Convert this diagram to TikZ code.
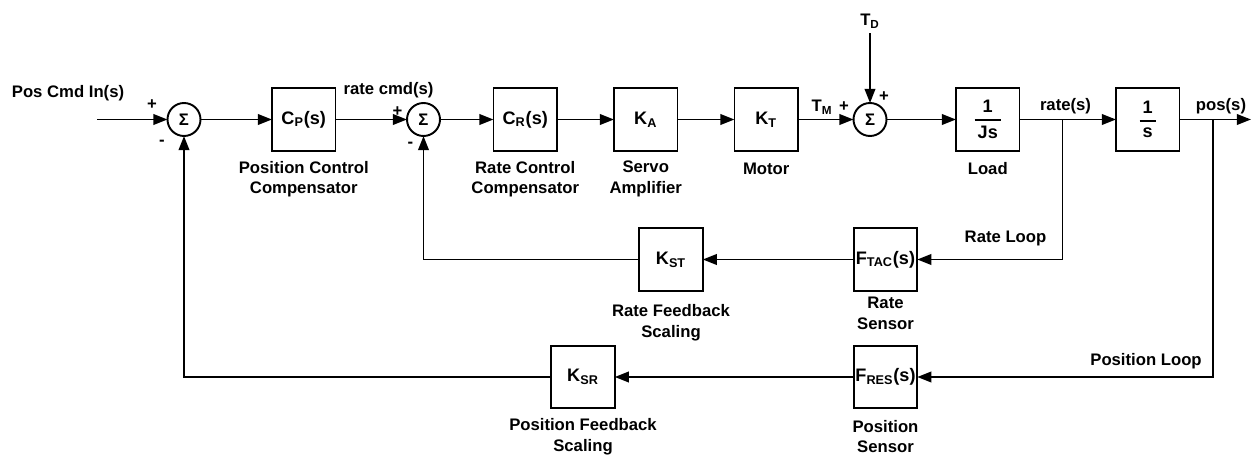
\documentclass[tikz,border=0pt]{standalone}
\usepackage{amsmath}
\usepackage{fontspec}
\setmainfont{Liberation Sans}
\usetikzlibrary{positioning,calc,arrows.meta}

\newcommand{\sbs}[1]{\textsubscript{#1}}
\newcommand{\blkfrac}[2]{$\genfrac{}{}{1pt}{0}{\text{#1}}{\text{\,#2\,}}$}

\begin{document}
\begin{tikzpicture}[line width=1.1pt, >={Triangle[length=8pt,width=6pt]},
    every node/.style={font=\bfseries\fontsize{9.5}{11.9}\selectfont},
    blk/.style={draw, minimum width=1.27cm, minimum height=1.25cm, inner sep=0pt, outer sep=0pt,
      font=\bfseries\fontsize{10.3}{12}\selectfont},
    sumpt/.style={draw, circle, minimum size=0.66cm, inner sep=0pt, outer sep=0pt},
    lbl/.style={align=center, inner sep=1pt},
    sgn/.style={inner sep=0pt}]
      \useasboundingbox (0,0) rectangle (25.12,-9.1);
      % forward path
      \node (sum1) [sumpt] at (3.68,-2.39) {Σ};
      \node (cp) [blk, right=1.43cm of sum1] {C\sbs{P}(s)};
      \node (sum2) [sumpt, right=1.43cm of cp] {Σ};
      \node (cr) [blk, right=1.07cm of sum2] {C\sbs{R}(s)};
      \node (ka) [blk, right=1.14cm of cr] {K\sbs{A}};
      \node (kt) [blk, right=1.14cm of ka] {K\sbs{T}};
      \node (sum3) [sumpt, right=1.11cm of kt] {Σ};
      \node (load) [blk, right=1.39cm of sum3] {\blkfrac{1}{Js}};
      \node (integ) [blk, right=1.93cm of load] {\blkfrac{1}{s}};
      \node (td) [inner sep=2.5pt, above=1.39cm of sum3] {T\sbs{D}};
      \coordinate (in) at ($(sum1.west)+(-1.41,0)$);
      \coordinate (out) at ($(integ.east)+(1.43,0)$);
      \coordinate (rtap) at ($(load.east)+(0.86,0)$);
      \coordinate (ptap) at ($(integ.east)+(0.67,0)$);
      % feedback blocks
      \node (ftac) [blk] at (17.71,-5.19) {F\sbs{TAC}(s)};
      \node (kst) [blk, left=3.02cm of ftac] {K\sbs{ST}};
      \node (fres) [blk, below=1.10cm of ftac] {F\sbs{RES}(s)};
      \node (ksr) [blk, left=4.78cm of fres] {K\sbs{SR}};
      % block captions
      \node (cplbl) [lbl, below=0.15cm of cp] {Position Control\\Compensator};
      \node (crlbl) [lbl, below=0.15cm of cr] {Rate Control\\Compensator};
      \node (kalbl) [lbl, below=0.14cm of ka] {Servo\\Amplifier};
      \node (ktlbl) [lbl, below=0.2cm of kt] {Motor};
      \node (loadlbl) [lbl, below=0.18cm of load] {Load};
      \node (ftaclbl) [lbl, below=0.08cm of ftac] {Rate\\Sensor};
      \node (kstlbl) [lbl, below=0.22cm of kst] {Rate Feedback\\Scaling};
      \node (freslbl) [lbl, below=0.18cm of fres] {Position\\Sensor};
      \node (ksrlbl) [lbl, below=0.15cm of ksr] {Position Feedback\\Scaling};
      % signal names and signs
      \node (inlbl) at (1.36,-1.86) {Pos Cmd In(s)};
      \node (rclbl) at ($(sum2)+(-0.7,0.59)$) {rate cmd(s)};
      \node (tm) at ($(sum3)+(-0.96,0.25)$) {T\sbs{M}};
      \node (ratelbl) [anchor=south, inner sep=1pt] at ($(rtap)+(0.06,0.05)$) {rate(s)};
      \node (poslbl) [anchor=south, inner sep=1pt] at ($(ptap)+(0.16,0.05)$) {pos(s)};
      \node (rloop) at ($(rtap |- ftac)+(-1.14,0.42)$) {Rate Loop};
      \node (ploop) at ($(ptap |- fres)+(-1.34,0.32)$) {Position Loop};
      \node (s1p) [sgn] at ($(sum1)+(-0.64,0.29)$) {+};
      \node (s1m) [sgn] at ($(sum1)+(-0.44,-0.47)$) {-};
      \node (s2p) [sgn] at ($(sum2)+(-0.52,0.15)$) {+};
      \node (s2m) [sgn] at ($(sum2)+(-0.26,-0.51)$) {-};
      \node (s3p) [sgn] at ($(sum3)+(-0.52,0.25)$) {+};
      \node (s3q) [sgn] at ($(sum3)+(0.28,0.45)$) {+};
      % connectors
      \draw[->] (in) -- (sum1);
      \draw[->] (sum1) -- (cp);
      \draw[->] (cp) -- (sum2);
      \draw[->] (sum2) -- (cr);
      \draw[->] (cr) -- (ka);
      \draw[->] (ka) -- (kt);
      \draw[->] (kt) -- (sum3);
      \draw[->] (td) -- (sum3);
      \draw[->] (sum3) -- (load);
      \draw[->] (load) -- (integ);
      \draw[->] (integ) -- (out);
      \draw[->] (rtap) |- (ftac.east);
      \draw[->] (ftac) -- (kst);
      \draw[->] (kst.west) -| (sum2.south);
      \draw[->] (ptap) |- (fres.east);
      \draw[->] (fres) -- (ksr);
      \draw[->] (ksr.west) -| (sum1.south);
    \end{tikzpicture}
\end{document}
